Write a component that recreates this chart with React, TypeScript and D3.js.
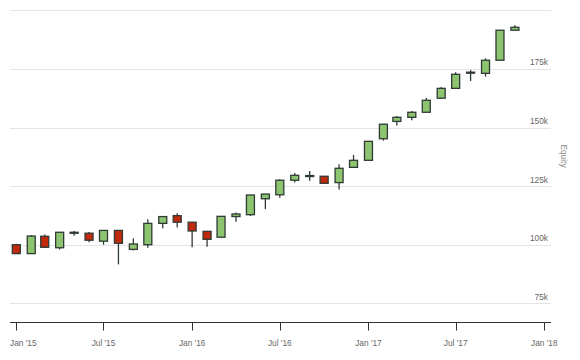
import React from "react";
import * as d3 from "d3";

const months = [
  "2015-01","2015-02","2015-03","2015-04","2015-05","2015-06","2015-07","2015-08","2015-09","2015-10","2015-11","2015-12",
  "2016-01","2016-02","2016-03","2016-04","2016-05","2016-06","2016-07","2016-08","2016-09","2016-10","2016-11","2016-12",
  "2017-01","2017-02","2017-03","2017-04","2017-05","2017-06","2017-07","2017-08","2017-09","2017-10","2017-11",
];
const openK = [100.0, 96.2, 103.6, 98.7, 105.2, 104.9, 101.5, 106.1, 98.0, 100.0, 109.1, 112.4, 109.6, 105.7, 103.2, 112.0, 112.8, 119.6, 121.3, 127.5, 129.4, 129.2, 126.5, 133.0, 136.0, 145.2, 152.6, 154.35, 156.5, 162.5, 166.7, 173.6, 173.1, 178.7, 191.5];
const highK = [100.4, 104.1, 104.4, 105.3, 105.8, 105.4, 106.1, 106.1, 102.7, 110.9, 112.0, 113.4, 109.6, 105.7, 112.1, 113.7, 121.2, 121.6, 127.9, 130.6, 131.45, 129.2, 134.3, 138.3, 144.1, 151.4, 154.9, 157.0, 162.6, 167.3, 173.55, 174.5, 179.5, 191.5, 193.6];
const lowK = [96.2, 96.2, 98.9, 98.0, 103.8, 101.0, 100.0, 91.6, 97.6, 98.7, 107.0, 107.3, 98.9, 99.15, 103.2, 109.8, 112.25, 115.2, 120.05, 126.5, 127.3, 126.2, 123.5, 133.0, 136.0, 144.4, 150.8, 153.1, 156.5, 162.5, 166.7, 169.8, 171.7, 178.7, 191.5];
const closeK = [96.2, 103.7, 98.9, 105.3, 105.3, 101.9, 106.1, 100.6, 100.3, 109.1, 112.0, 109.6, 105.85, 102.3, 112.1, 113.1, 121.2, 121.6, 127.5, 129.6, 129.5, 126.2, 132.6, 136.0, 144.1, 151.4, 154.35, 156.5, 161.6, 166.7, 172.7, 173.5, 178.7, 191.5, 192.75];

const yTicks = [75000, 100000, 125000, 150000, 175000, 200000];
const yLabelTicks = [75000, 100000, 125000, 150000, 175000];
const xTickDates = ["2015-01-01", "2015-07-01", "2016-01-01", "2016-07-01", "2017-01-01", "2017-07-01", "2018-01-01"];
const axisTitle = "Equity";

const parseMonth = d3.timeParse("%Y-%m");
const parseDay = d3.timeParse("%Y-%m-%d");
const fmtX = d3.timeFormat("%b '%y");
const fmtY = (v: number) => `${Math.round(v / 1000)}k`;

const GREEN = "#8dc46f";
const RED = "#c0290c";
const STROKE = "#2f3a36";
const FONT = "'Liberation Sans', Arial, sans-serif";

export default function App() {
  const W = 580, H = 360;
  const plotLeft = 10, plotRight = 551, axisY = 322;
  const x = d3.scaleTime()
    .domain([parseDay("2015-01-01")!, parseDay("2018-01-01")!])
    .range([16.3, 544.3]);
  const y = d3.scaleLinear().domain([75000, 200000]).range([303.3, 10.3]);
  const cw = 8;

  const data = months.map((m, i) => ({
    date: parseMonth(m)!,
    open: openK[i] * 1000,
    high: highK[i] * 1000,
    low: lowK[i] * 1000,
    close: closeK[i] * 1000,
  }));

  return (
    <svg width={W} height={H} style={{ position: "absolute", left: 0, top: 0, background: "#fff" }}>
      {yTicks.map((t) => (
        <line key={"g" + t} x1={plotLeft} x2={plotRight} y1={Math.round(y(t)) + 0.5} y2={Math.round(y(t)) + 0.5}
          stroke="#e4e4e4" strokeWidth={1} />
      ))}
      {yLabelTicks.map((t) => (
        <text key={"yl" + t} x={548} y={y(t) - 3.5} textAnchor="end" fontFamily={FONT} fontSize={8.3} fill="#666">
          {fmtY(t)}
        </text>
      ))}
      <text transform={`translate(561,156) rotate(90)`} textAnchor="middle" fontFamily={FONT} fontSize={8.3} fill="#888">
        {axisTitle}
      </text>
      <line x1={plotLeft} x2={plotRight} y1={axisY + 0.5} y2={axisY + 0.5} stroke="#333" strokeWidth={1} />
      {xTickDates.map((s, i) => {
        const d = parseDay(s)!;
        const xp = Math.round(x(d)) + 0.5;
        return (
          <g key={"xt" + s}>
            <line x1={xp} x2={xp} y1={axisY} y2={axisY + 8.5} stroke="#333" strokeWidth={1} />
            <text x={i === 0 ? plotLeft : x(d)} y={346} textAnchor={i === 0 ? "start" : "middle"}
              fontFamily={FONT} fontSize={8.3} fill="#666">
              {fmtX(d)}
            </text>
          </g>
        );
      })}
      {data.map((d, i) => {
        const cx = x(d.date);
        const up = d.close >= d.open;
        const top = y(Math.max(d.open, d.close));
        const bot = y(Math.min(d.open, d.close));
        const h = Math.max(bot - top, 1);
        return (
          <g key={"c" + i}>
            <line x1={cx} x2={cx} y1={y(d.high)} y2={y(d.low)} stroke={STROKE} strokeWidth={1.3} />
            <rect x={cx - cw / 2} y={top} width={cw} height={h}
              fill={up ? GREEN : RED} stroke={STROKE} strokeWidth={1.3} />
          </g>
        );
      })}
    </svg>
  );
}
